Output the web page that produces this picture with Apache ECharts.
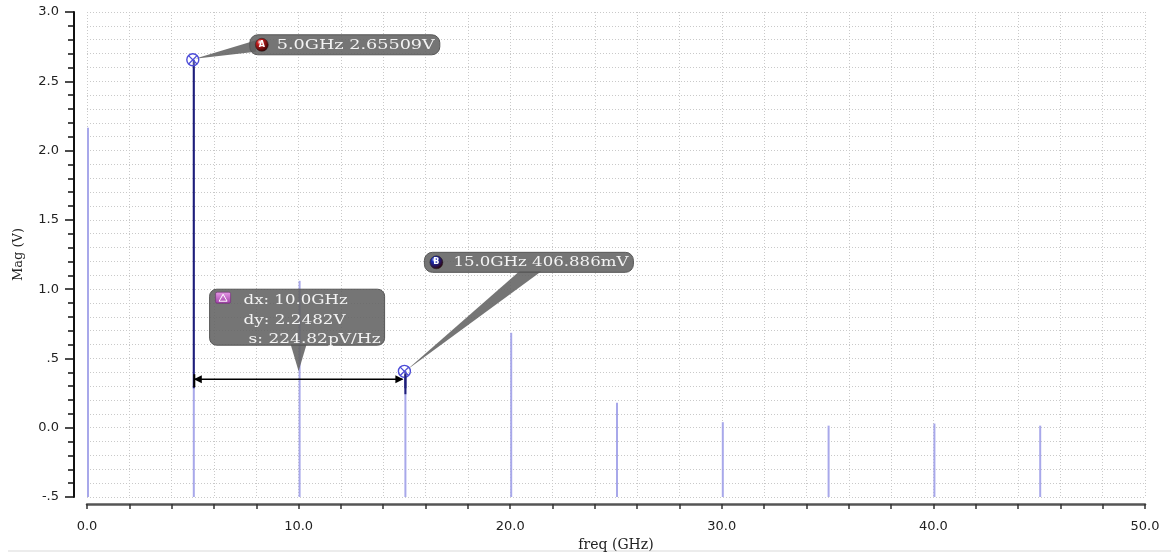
<!DOCTYPE html>
<html>
<head>
<meta charset="utf-8">
<title>Spectrum magnitude</title>
<script src="https://cdn.jsdelivr.net/npm/echarts@6/dist/echarts.min.js"></script>
<style>
  html, body { margin: 0; padding: 0; background: #ffffff; }
  #chart { width: 1171px; height: 555px; }
</style>
</head>
<body>
<div id="chart"></div>
<script>
// Harmonic spectrum: frequency (GHz) and magnitude (V) of each spectral line
const FREQ_GHZ = [0, 5, 10, 15, 20, 25, 30, 35, 40, 45];
const MAG_V    = [2.165, 2.65509, 1.06, 0.406886, 0.685, 0.18, 0.04, 0.015, 0.03, 0.015];

// Measurement markers placed on spectral lines
const MARKER_NAMES = ['A', 'B'];
const MARKER_FREQ  = [5.0, 15.0];
const MARKER_MAG   = [2.65509, 0.406886];
const MARKER_BADGE = ['#c82020', '#1c2cb8'];

// Level (V) at which the delta dimension arrow between markers is drawn
const DELTA_LEVEL = 0.35;

// Axis ranges
const X_MIN = 0, X_MAX = 50, X_STEP = 10;
const Y_MIN = -0.5, Y_MAX = 3.0, Y_STEP = 0.5;

const SERIF = '"DejaVu Serif", "Liberation Serif", serif';
const SANS = '"DejaVu Sans", Verdana, sans-serif';
const LABEL_FONT = '13.5px ' + SERIF;

// annotation text is drawn in a wide face: stretch each string to its slot width
const measureCtx = document.createElement('canvas').getContext('2d');
function textWidth(str, font) {
  measureCtx.font = font;
  return measureCtx.measureText(str).width;
}

function fmtMag(v) {
  if (Math.abs(v) >= 1) return v.toPrecision(6) + 'V';
  return (v * 1000).toPrecision(6) + 'mV';
}
function fmtY(v) {
  if (v === 0) return '0.0';
  if (Math.abs(v) < 1) return (v < 0 ? '-' : '') + '.' + String(Math.round(Math.abs(v) * 10));
  return v.toFixed(1);
}

// Callout geometry (pixels, relative to the marker point)
const CALLOUT = [
  { bx: 57, by: -25, bw: 190, bh: 20, wedge: [[8, 5], [6, 17]], badgeX: 12, textX: 27, textW: 158 },
  { bx: 20, by: -119, bw: 209, bh: 20, wedge: [[95, 19], [117, 19]], badgeX: 12, textX: 29, textW: 175 }
];

const BOX_FILL = 'rgba(98,98,98,0.88)';
const BOX_STROKE = '#575757';

function stretchedText(str, x, y, font, fill, targetW) {
  const sx = targetW / textWidth(str, font);
  return {
    type: 'text',
    x: x, y: y,
    scaleX: sx,
    style: { text: str, x: 0, y: 0, font: font, fill: fill, align: 'left', verticalAlign: 'middle' }
  };
}

function markerSymbol(cx, cy) {
  const r = 6, d = 4.2;
  return [
    { type: 'circle', shape: { cx: cx, cy: cy, r: r }, style: { fill: 'rgba(255,255,255,0.2)', stroke: '#4c4cd8', lineWidth: 1.4 } },
    { type: 'line', shape: { x1: cx - d, y1: cy - d, x2: cx + d, y2: cy + d }, style: { stroke: '#4c4cd8', lineWidth: 1.3 } },
    { type: 'line', shape: { x1: cx - d, y1: cy + d, x2: cx + d, y2: cy - d }, style: { stroke: '#4c4cd8', lineWidth: 1.3 } }
  ];
}

const chart = echarts.init(document.getElementById('chart'), null, { renderer: 'canvas' });

const gridDots = { color: '#c9c9c9', width: 1, type: [1, 2] };

const option = {
  backgroundColor: '#ffffff',
  animation: false,
  grid: { left: 87, right: 26, top: 12, bottom: 58, containLabel: false, outerBoundsMode: 'none' },
  xAxis: {
    type: 'value',
    min: X_MIN, max: X_MAX, interval: X_STEP,
    offset: 7,
    name: 'freq (GHz)',
    nameLocation: 'middle',
    nameGap: 32,
    nameTextStyle: { fontFamily: SERIF, fontSize: 14, color: '#222' },
    axisLine: { show: true, onZero: false, lineStyle: { color: '#555', width: 2.5 } },
    axisTick: { show: true, length: 5, lineStyle: { color: '#333', width: 1.5 } },
    minorTick: { show: true, splitNumber: 5, length: 5, lineStyle: { color: '#333', width: 1.5 } },
    splitLine: { show: true, lineStyle: gridDots },
    minorSplitLine: { show: true, lineStyle: gridDots },
    axisLabel: { margin: 16, fontFamily: SANS, fontSize: 13, color: '#222', formatter: v => v.toFixed(1) }
  },
  yAxis: {
    type: 'value',
    min: Y_MIN, max: Y_MAX, interval: Y_STEP,
    offset: 13,
    name: 'Mag (V)',
    nameLocation: 'middle',
    nameGap: 49,
    nameRotate: 90,
    nameTextStyle: { fontFamily: SERIF, fontSize: 13, color: '#222' },
    axisLine: { show: true, onZero: false, lineStyle: { color: '#111', width: 2 } },
    axisTick: { show: true, length: 9, lineStyle: { color: '#111', width: 1.5 } },
    minorTick: { show: true, splitNumber: 5, length: 6, lineStyle: { color: '#111', width: 1.5 } },
    splitLine: { show: true, lineStyle: gridDots },
    minorSplitLine: { show: true, lineStyle: gridDots },
    axisLabel: { margin: 15, fontFamily: SANS, fontSize: 13, color: '#222', formatter: fmtY }
  },
  graphic: [
    { type: 'line', shape: { x1: 8, y1: 551, x2: 1171, y2: 551 }, style: { stroke: '#e6e6e6', lineWidth: 1.5 }, silent: true }
  ],
  series: [
    {
      // spectral lines rising from the bottom of the plot
      type: 'custom',
      name: 'spectrum',
      coordinateSystem: 'cartesian2d',
      encode: { x: 0, y: 1 },
      data: FREQ_GHZ.map((f, i) => [f, MAG_V[i]]),
      z: 2,
      renderItem: function (params, api) {
        const f = api.value(0), v = api.value(1);
        const p0 = api.coord([f, Y_MIN]);
        const p1 = api.coord([f, v]);
        return {
          type: 'line',
          shape: { x1: p0[0] + 1, y1: p0[1], x2: p1[0] + 1, y2: p1[1] },
          style: { stroke: '#a8a8ea', lineWidth: 2 }
        };
      }
    },
    {
      // marker callouts A and B
      type: 'custom',
      name: 'markers',
      coordinateSystem: 'cartesian2d',
      encode: { x: 0, y: 1 },
      data: MARKER_FREQ.map((f, i) => [f, MARKER_MAG[i]]),
      z: 5,
      renderItem: function (params, api) {
        const i = params.dataIndex;
        const f = api.value(0), v = api.value(1);
        const p = api.coord([f, v]);
        const lvl = api.coord([f, DELTA_LEVEL]);
        const c = CALLOUT[i];
        const bx = p[0] + c.bx, by = p[1] + c.by;
        const label = f.toFixed(1) + 'GHz ' + fmtMag(v);
        const badgeCx = bx + c.badgeX, badgeCy = by + c.bh / 2;
        const children = [
          { type: 'line', shape: { x1: p[0] + 1, y1: p[1], x2: lvl[0] + 1, y2: lvl[1] + 9 }, style: { stroke: '#1e1e78', lineWidth: 2 } },
          { type: 'polygon', shape: { points: [[p[0] + 2, p[1] - 1], [bx + c.wedge[0][0], by + c.wedge[0][1]], [bx + c.wedge[1][0], by + c.wedge[1][1]]] }, style: { fill: BOX_FILL } },
          { type: 'rect', shape: { x: bx, y: by, width: c.bw, height: c.bh, r: 8 }, style: { fill: BOX_FILL, stroke: BOX_STROKE, lineWidth: 1 } },
          { type: 'circle', shape: { cx: badgeCx, cy: badgeCy, r: 6.5 },
            style: { fill: new echarts.graphic.RadialGradient(0.35, 0.3, 0.75, [{ offset: 0, color: '#ffffff' }, { offset: 0.25, color: MARKER_BADGE[i] }, { offset: 1, color: '#300000' }]), stroke: '#222', lineWidth: 0.5 } },
          { type: 'text', x: badgeCx, y: badgeCy, style: { text: MARKER_NAMES[i], font: 'bold 8px ' + SANS, fill: '#ffffff', align: 'center', verticalAlign: 'middle' } },
          stretchedText(label, bx + c.textX, badgeCy + 0.5, LABEL_FONT, '#f4f4f4', c.textW)
        ];
        return { type: 'group', children: children.concat(markerSymbol(p[0], p[1])) };
      }
    },
    {
      // delta readout between markers A and B
      type: 'custom',
      name: 'delta',
      coordinateSystem: 'cartesian2d',
      encode: { x: [0, 1], y: 2 },
      data: [[MARKER_FREQ[0], MARKER_FREQ[1], DELTA_LEVEL]],
      z: 6,
      renderItem: function (params, api) {
        const pa = api.coord([api.value(0), api.value(2)]);
        const pb = api.coord([api.value(1), api.value(2)]);
        const y = pa[1];
        const mx = (pa[0] + pb[0]) / 2;
        const dx = MARKER_FREQ[1] - MARKER_FREQ[0];
        const dy = MARKER_MAG[0] - MARKER_MAG[1];
        const slope = dy / dx * 1000; // V/GHz -> pV/Hz
        const bx = mx - 89, by = y - 90, bw = 175, bh = 56;
        const ah = 8, aw = 4;
        const children = [
          // dimension arrow
          { type: 'line', shape: { x1: pa[0] + 2, y1: y, x2: pb[0] - 2, y2: y }, style: { stroke: '#000', lineWidth: 1.5 } },
          { type: 'polygon', shape: { points: [[pa[0] + 1, y], [pa[0] + 1 + ah, y - aw], [pa[0] + 1 + ah, y + aw]] }, style: { fill: '#000' } },
          { type: 'polygon', shape: { points: [[pb[0] - 1, y], [pb[0] - 1 - ah, y - aw], [pb[0] - 1 - ah, y + aw]] }, style: { fill: '#000' } },
          { type: 'line', shape: { x1: pa[0] + 1.5, y1: y - 5, x2: pa[0] + 1.5, y2: y + 8 }, style: { stroke: '#000', lineWidth: 2 } },
          { type: 'line', shape: { x1: pb[0] + 1, y1: y - 5, x2: pb[0] + 1, y2: y + 15 }, style: { stroke: '#1e1e78', lineWidth: 2 } },
          // callout
          { type: 'polygon', shape: { points: [[mx - 8, by + bh - 1], [mx + 8, by + bh - 1], [mx, y - 8]] }, style: { fill: BOX_FILL } },
          { type: 'rect', shape: { x: bx, y: by, width: bw, height: bh, r: 7 }, style: { fill: BOX_FILL, stroke: BOX_STROKE, lineWidth: 1 } },
          { type: 'rect', shape: { x: bx + 6, y: by + 3, width: 15, height: 11, r: 1.5 },
            style: { fill: new echarts.graphic.LinearGradient(0, 0, 0, 1, [{ offset: 0, color: '#e79ae7' }, { offset: 1, color: '#a040a8' }]), stroke: '#6a2a70', lineWidth: 0.6 } },
          { type: 'polygon', shape: { points: [[bx + 13.5, by + 5], [bx + 9.5, by + 12], [bx + 17.5, by + 12]] }, style: { fill: 'none', stroke: '#ffffff', lineWidth: 1 } },
          stretchedText('dx: ' + dx.toFixed(1) + 'GHz', bx + 34, by + 11, LABEL_FONT, '#f4f4f4', 104),
          stretchedText('dy: ' + dy.toFixed(4) + 'V', bx + 34, by + 31, LABEL_FONT, '#f4f4f4', 102),
          stretchedText('s: ' + slope.toFixed(2) + 'pV/Hz', bx + 39, by + 50, LABEL_FONT, '#f4f4f4', 132)
        ];
        return { type: 'group', children: children };
      }
    }
  ]
};

chart.setOption(option);
</script>
</body>
</html>
